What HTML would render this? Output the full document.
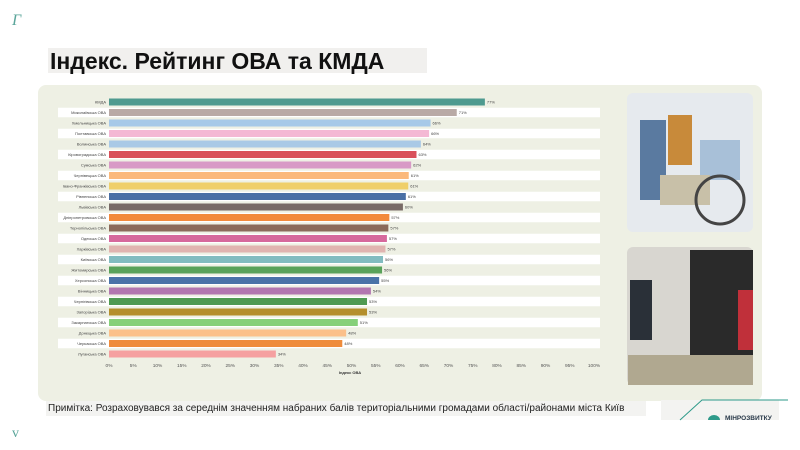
<!DOCTYPE html>
<html><head><meta charset="utf-8">
<style>
body{margin:0;width:800px;height:450px;background:#fff;overflow:hidden;font-family:"Liberation Sans",sans-serif;position:relative}
.abs{position:absolute}
</style></head>
<body>
<div class="abs" style="left:12px;top:12px;color:#5aa59a;font-family:'Liberation Serif',serif;font-style:italic;font-size:16px">Γ</div>
<div class="abs" style="left:12px;top:426px;color:#5aa59a;font-family:'Liberation Serif',serif;font-size:14px">v</div>
<div class="abs" style="left:48px;top:48px;width:379px;height:25px;background:#f1f0ee"></div>
<div class="abs" style="left:50px;top:48px;font-size:23px;font-weight:bold;color:#111;white-space:nowrap">Індекс. Рейтинг ОВА та КМДА</div>
<div class="abs" style="left:38px;top:85px;width:724px;height:316px;background:#eef0e4;border-radius:8px"></div>
<svg class="abs" style="left:0;top:0" width="800" height="450">
<g id="rows"></g><g id="bars"></g><g id="axis"></g>
<text x="350" y="374" font-size="4" font-weight="bold" fill="#333" text-anchor="middle">Індекс ОВА</text>
<g>
<rect x="627" y="93" width="126" height="139" rx="6" fill="#e6eaee"/>
<rect x="640" y="120" width="26" height="80" fill="#5a7aa0"/>
<rect x="668" y="115" width="24" height="50" fill="#c88a3a"/>
<rect x="700" y="140" width="40" height="40" fill="#a8c0d8"/>
<rect x="660" y="175" width="50" height="30" fill="#c8c0a8"/>
<circle cx="720" cy="200" r="24" fill="none" stroke="#444" stroke-width="3"/>
</g>
<g>
<rect x="627" y="247" width="126" height="138" rx="6" fill="#d8d6d0"/>
<rect x="690" y="250" width="63" height="110" fill="#2a2a2a"/>
<rect x="738" y="290" width="15" height="60" fill="#c0303a"/>
<rect x="630" y="280" width="22" height="60" fill="#2a3038"/>
<rect x="628" y="355" width="125" height="30" fill="#b0a890"/>
</g>
</svg>
<div class="abs" style="left:46px;top:401px;width:598px;height:15px;background:#f3f3f1;font-size:10px;color:#222;line-height:15px;white-space:nowrap;padding-left:2px">Примітка: Розраховувався за середнім значенням набраних балів територіальними громадами області/районами міста Київ</div>
<div class="abs" style="left:661px;top:400px;width:118px;height:20px;background:#f3f3f1"></div>
<svg class="abs" style="left:660px;top:398px" width="130" height="30">
<path d="M20 22 L42 2 L128 2" stroke="#2e9a8a" stroke-width="1" fill="none"/>
<path d="M48 22 a6 5 0 0 1 12 0z" fill="#2e9a8a"/>
<text x="65" y="22" font-size="6.5" font-weight="bold" fill="#2a3a4a">МІНРОЗВИТКУ</text>
</svg>
<script>
const categories=["КМДА","Миколаївська ОВА","Хмельницька ОВА","Полтавська ОВА","Волинська ОВА","Кіровоградська ОВА","Сумська ОВА","Чернівецька ОВА","Івано-Франківська ОВА","Рівненська ОВА","Львівська ОВА","Дніпропетровська ОВА","Тернопільська ОВА","Одеська ОВА","Харківська ОВА","Київська ОВА","Житомирська ОВА","Херсонська ОВА","Вінницька ОВА","Чернігівська ОВА","Запорізька ОВА","Закарпатська ОВА","Донецька ОВА","Черкаська ОВА","Луганська ОВА"];
const values=[77.5,71.7,66.3,66,64.3,63.4,62.3,61.8,61.7,61.2,60.6,57.8,57.6,57.3,57,56.5,56.3,55.7,54,53.2,53.2,51.3,48.9,48.1,34.4];
const valueLabels=["77%","71%","66%","66%","64%","63%","62%","61%","61%","61%","60%","57%","57%","57%","57%","56%","56%","55%","54%","53%","53%","51%","48%","48%","34%"];
const colors=["#4e9a8f","#b9aaa6","#a7c9e8","#f4b8d4","#a9c9e6","#d9505a","#d89ac6","#fbb97b","#efcf6a","#4a6fa5","#786a66","#f28a3c","#8b6a5a","#d6689c","#e0b4b0","#82bcc0","#59a25a","#4a73a8","#b277b0","#4f9a52","#b48f2c","#86d07a","#fbc08a","#ef8c3c","#f5a0a0"];
const ticks=[0,5,10,15,20,25,30,35,40,45,50,55,60,65,70,75,80,85,90,95,100];
const x0=109,x1=594,yTop=102,step=10.5,bh=7;
const sx=v=>x0+(x1-x0)*v/100;
const sy=i=>yTop+i*step;
const NS="http://www.w3.org/2000/svg";
function mk(t,a,p){const e=document.createElementNS(NS,t);for(const k in a)e.setAttribute(k,a[k]);p.appendChild(e);return e;}
const rows=document.getElementById('rows'),bars=document.getElementById('bars'),axis=document.getElementById('axis');
categories.forEach((c,i)=>{
  if(i%2===1){const r=mk('rect',{x:58,y:sy(i)-step/2+0.5,width:542,height:step-1,fill:'#ffffff'},rows);
  
  }
  const b=mk('rect',{x:x0,y:sy(i)-bh/2,width:sx(values[i])-x0,height:bh,fill:colors[i]},bars);
  
  
  const l=mk('text',{x:x0-3,y:sy(i)+1.5,'font-size':4,'text-anchor':'end',fill:'#444'},bars);l.textContent=c;
  
  
  const v=mk('text',{x:sx(values[i])+2,y:sy(i)+1.5,'font-size':4,fill:'#444'},bars);v.textContent=valueLabels[i];
  
  
});
ticks.forEach(t=>{const e=mk('text',{x:sx(t),y:367,'font-size':4.8,'text-anchor':'middle',fill:'#555'},axis);e.textContent=t+'%';
  
  });
</script>
</body></html>
